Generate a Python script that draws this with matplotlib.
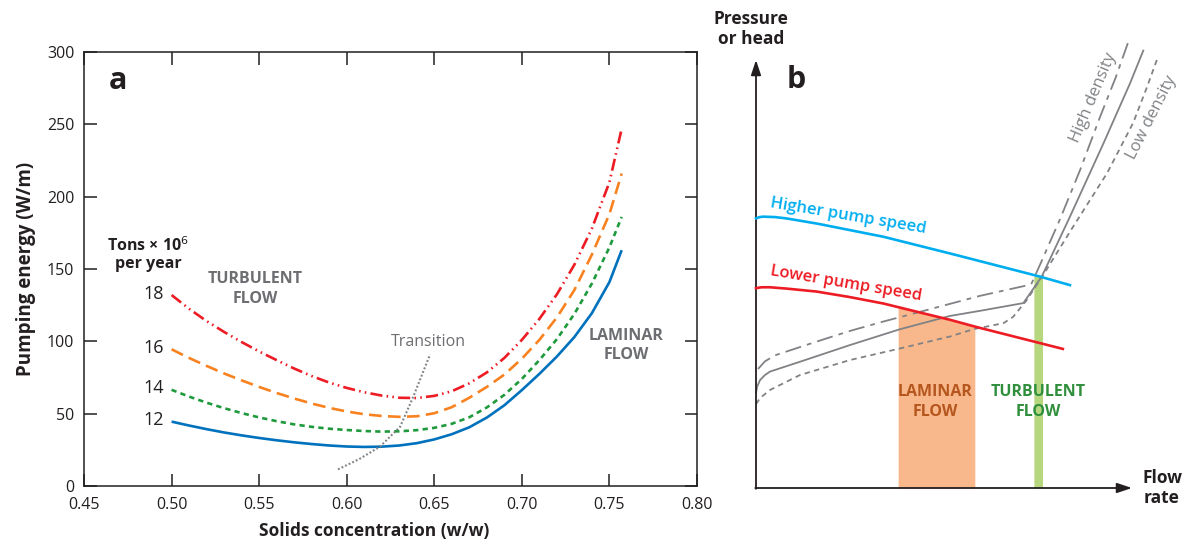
import matplotlib
matplotlib.use("Agg")
import matplotlib.pyplot as plt
import numpy as np

plt.rcParams['font.family'] = ['Open Sans', 'DejaVu Sans']

# ---------------- Panel a data ----------------
conc = [0.50, 0.51, 0.52, 0.53, 0.54, 0.55, 0.56, 0.57, 0.58, 0.59, 0.60, 0.61, 0.62, 0.63,
        0.64, 0.65, 0.66, 0.67, 0.68, 0.69, 0.70, 0.71, 0.72, 0.73, 0.74, 0.75, 0.757]
energy_12 = [44.5, 41.8, 39.3, 37.0, 35.0, 33.2, 31.6, 30.2, 29.0, 28.0, 27.3, 27.0, 27.2, 28.0,
             29.6, 32.2, 35.8, 40.6, 47.3, 55.8, 66.3, 77.5, 89.5, 103.0, 119.5, 141.0, 163.0]
energy_14 = [66.5, 61.8, 57.6, 53.8, 50.4, 47.4, 44.8, 42.6, 40.9, 39.6, 38.7, 38.0, 37.6, 37.8,
             38.6, 40.2, 43.0, 47.5, 54.3, 63.0, 74.0, 87.0, 101.5, 119.0, 140.0, 165.0, 186.0]
energy_16 = [94.5, 88.5, 83.0, 77.8, 73.0, 68.5, 64.3, 60.5, 57.0, 54.0, 51.5, 49.6, 48.4, 47.8,
             48.2, 50.3, 54.5, 61.0, 68.5, 77.0, 88.0, 101.0, 116.5, 135.5, 160.0, 188.0, 216.0]
energy_18 = [132.0, 122.5, 114.0, 106.5, 99.5, 93.0, 87.0, 81.2, 76.0, 71.5, 67.8, 64.8, 62.5, 61.0,
             60.8, 62.3, 65.5, 71.0, 78.5, 88.5, 101.0, 115.5, 132.5, 153.0, 178.0, 210.0, 247.0]
trans_conc = [0.595, 0.607, 0.619, 0.6305, 0.638, 0.6476]
trans_energy = [11.5, 18.5, 27.2, 41, 61.7, 91]
tons_labels = ['12', '14', '16', '18']
x_ticks = [0.45, 0.50, 0.55, 0.60, 0.65, 0.70, 0.75, 0.80]
y_ticks = [0, 50, 100, 150, 200, 250, 300]

# ---------------- Panel b data (schematic units) ----------------
hi_speed_flow = [0, 1.0, 1.9, 5, 8, 16.1, 33.9, 51.6, 75.5, 83.5]
hi_speed_head = [63.0, 63.3, 63.4, 63.3, 63.0, 61.8, 58.7, 54.8, 49.4, 47.4]
lo_speed_flow = [0, 1.5, 3.7, 8, 16.1, 25.0, 33.9, 42.7, 51.6, 58.7, 81.6]
lo_speed_head = [46.7, 46.9, 46.9, 46.6, 45.9, 44.6, 43.1, 41.2, 39.3, 37.6, 32.5]
mid_flow = [0, 0.27, 1.06, 2.39, 3.72, 11.7, 25.0, 38.3, 51.6, 59.6, 71.1, 76.0, 83.5, 92.4, 99.5, 103.0]
mid_head = [22.2, 23.6, 25.2, 26.4, 27.2, 29.5, 33.4, 37.1, 40.2, 41.4, 43.2, 49.4, 63.4, 80.5, 94.6, 102.2]
high_flow = [0.53, 2.39, 5.05, 16.1, 25.0, 33.9, 45.5, 59.6, 72.9, 73.3, 75.5, 80.9, 86.2, 91.5, 95.7, 99.0]
high_head = [27.8, 29.6, 31.0, 34.2, 36.7, 38.9, 41.6, 44.9, 47.5, 47.8, 52.1, 62.9, 74.3, 86.7, 96.0, 104.2]
low_flow = [0, 1.06, 3.72, 11.7, 25.0, 38.3, 51.6, 57.8, 65.8, 68.4, 72.0, 76.9, 84.3, 93.4, 100.3, 104.0, 106.6]
low_head = [19.6, 21.0, 22.9, 26.4, 29.9, 32.6, 35.4, 37.1, 38.5, 40.0, 43.9, 50.5, 61.0, 73.6, 85.3, 93.7, 100.0]
laminar_band = [37.8, 58.2]
turbulent_band = [73.9, 76.2]

# ---------------- Styles ----------------
DARK = '#231f20'
GRAY = '#6d6e71'
LGRAY = '#808285'
c12, c14, c16, c18 = '#0071bc', '#1e9a3c', '#f7821f', '#ed1c24'
CYAN = '#00aeef'
RED = '#ed1c24'
NARROW = ['Liberation Sans Narrow', 'Open Sans', 'DejaVu Sans']

fig = plt.figure(figsize=(11.96, 5.46), dpi=100)

# ---------------- Panel a ----------------
ax = fig.add_axes([84/1196, 60/546, (697-84)/1196, (486-52)/546])
lw = 1.9
ax.plot(conc, energy_12, color=c12, lw=lw, solid_capstyle='butt')
ax.plot(conc, energy_14, color=c14, lw=lw, linestyle=(0, (2.0, 1.6)))
ax.plot(conc, energy_16, color=c16, lw=lw, linestyle=(0, (4.8, 2.4)))
ax.plot(conc, energy_18, color=c18, lw=lw, linestyle=(0, (4.6, 1.6, 0.6, 1.6, 0.6, 1.6)))
ax.plot(trans_conc, trans_energy, color=LGRAY, lw=1.5, linestyle=(0, (0.9, 1.0)))

ax.set_xlim(0.45, 0.80)
ax.set_ylim(0, 300)
ax.set_xticks(x_ticks)
ax.set_xticklabels([f'{v:.2f}' for v in x_ticks])
ax.set_yticks(y_ticks)
ax.tick_params(direction='in', length=9, width=1.1, color=DARK, labelsize=11.5,
               labelcolor=DARK, top=True, right=True)
ax.tick_params(axis='x', pad=8)
ax.tick_params(axis='y', pad=7)
for s in ax.spines.values():
    s.set_linewidth(1.1)
    s.set_color(DARK)
ax.set_xlabel('Solids concentration (w/w)', fontsize=12.5, fontweight='bold', color=DARK)
ax.xaxis.set_label_coords((374 - 84) / 613, (486 - 522) / 434)
ax.set_ylabel('Pumping energy (W/m)', fontsize=13.5, fontweight='bold', color=DARK, labelpad=8)

ax.text(0.4694, 280, 'a', fontsize=22, fontweight='bold', color=DARK, ha='center', va='center')
ax.text(0.4865, 160, 'Tons × 10$^{6}$\nper year', fontsize=11.5, fontweight='bold', color=DARK,
        ha='center', va='center', linespacing=1.1)
for lab, yv in zip(tons_labels, [energy_12[0], energy_14[0], energy_16[0], energy_18[0]]):
    ax.text(0.4955, yv + 1, lab, fontsize=13, color=DARK, ha='right', va='center')
ax.text(0.5476, 136, 'TURBULENT\nFLOW', family=NARROW, fontsize=11.5, fontweight='bold',
        color=GRAY, ha='center', va='center', linespacing=1.3)
ax.text(0.7595, 97, 'LAMINAR\nFLOW', family=NARROW, fontsize=11.5, fontweight='bold',
        color=GRAY, ha='center', va='center', linespacing=1.3)
ax.text(0.6464, 99.5, 'Transition', fontsize=11.5, color=GRAY, ha='center', va='center')

# ---------------- Panel b ----------------
bx = fig.add_axes([756/1196, 58/546, (1132-756)/1196, (488-60)/546])
bx.set_xlim(0, 100)
bx.set_ylim(0, 100)
bx.axis('off')

lo_x = np.array(lo_speed_flow)
lo_y = np.array(lo_speed_head)
hi_x = np.array(hi_speed_flow)
hi_y = np.array(hi_speed_head)
band_x = np.linspace(laminar_band[0], laminar_band[1], 50)
bx.fill_between(band_x, 0, np.interp(band_x, lo_x, lo_y), color='#f9b88b', lw=0, zorder=1)
band_x2 = np.linspace(turbulent_band[0], turbulent_band[1], 10)
bx.fill_between(band_x2, 0, np.interp(band_x2, hi_x, hi_y), color='#b7d77e', lw=0, zorder=1)

bx.plot(mid_flow, mid_head, color=LGRAY, lw=1.3, clip_on=False, zorder=3)
bx.plot(high_flow, high_head, color=LGRAY, lw=1.3, clip_on=False, zorder=3,
        linestyle=(0, (9.0, 3.4, 2.6, 3.4)))
bx.plot(low_flow, low_head, color=LGRAY, lw=1.3, clip_on=False, zorder=3,
        linestyle=(0, (3.0, 2.4)))
bx.plot(hi_speed_flow, hi_speed_head, color=CYAN, lw=1.9, clip_on=False, zorder=4)
bx.plot(lo_speed_flow, lo_speed_head, color=RED, lw=1.9, clip_on=False, zorder=4)

arrow_kw = dict(arrowstyle='-|>,head_length=0.9,head_width=0.3', color=DARK, lw=1.3,
                shrinkA=0, shrinkB=0)
bx.annotate('', xy=(100, 0), xytext=(-0.2, 0), arrowprops=arrow_kw, annotation_clip=False)
bx.annotate('', xy=(0, 100), xytext=(0, -0.2), arrowprops=arrow_kw, annotation_clip=False)

bx.text(10.6, 95.3, 'b', fontsize=22, fontweight='bold', color=DARK, ha='center', va='center')
bx.text(24.5, 63.6, 'Higher pump speed', fontsize=12, fontweight=600, color=CYAN,
        ha='center', va='center', rotation=-9.5, rotation_mode='anchor')
bx.text(23.9, 47.6, 'Lower pump speed', fontsize=12, fontweight=600, color=RED,
        ha='center', va='center', rotation=-9.5, rotation_mode='anchor')
bx.text(89.6, 91.1, 'High density', fontsize=12, color=LGRAY, ha='center', va='center',
        rotation=67, rotation_mode='anchor')
bx.text(105.3, 86.6, 'Low density', fontsize=12, color=LGRAY, ha='center', va='center',
        rotation=63, rotation_mode='anchor')
bx.text(47.7, 20.1, 'LAMINAR\nFLOW', family=NARROW, fontsize=11.5, fontweight='bold',
        color='#b4561e', ha='center', va='center', linespacing=1.3, zorder=5)
bx.text(75.0, 20.1, 'TURBULENT\nFLOW', family=NARROW, fontsize=11.5, fontweight='bold',
        color='#2f8f3c', ha='center', va='center', linespacing=1.3, zorder=5)

fig.text(751/1196, 1 - 29/546, 'Pressure\nor head', fontsize=12.5, fontweight='bold', color=DARK,
         ha='center', va='center', linespacing=1.15)
fig.text(1162/1196, 1 - 488/546, 'Flow\nrate', fontsize=12.5, fontweight='bold', color=DARK,
         ha='center', va='center', linespacing=1.15)

fig.savefig('out.png', dpi=100)
